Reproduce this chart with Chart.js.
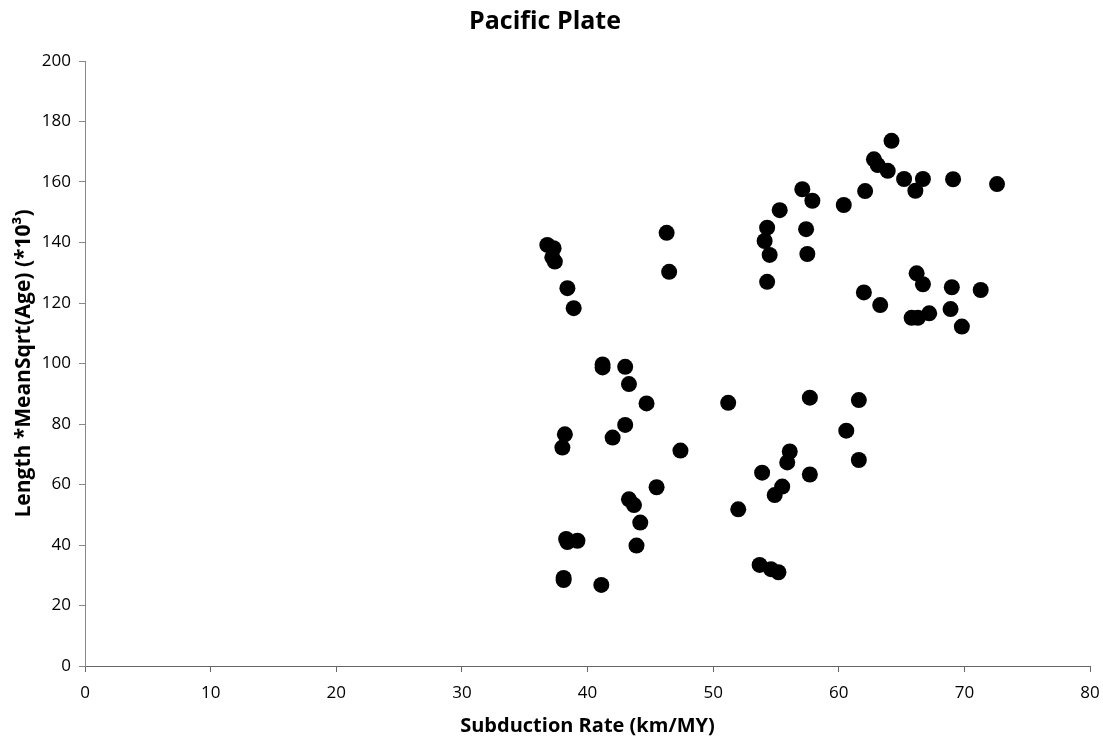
<!DOCTYPE html>
<html>
<head>
<meta charset="utf-8">
<script src="https://cdn.jsdelivr.net/npm/chart.js@4"></script>
<style>
  html, body { margin: 0; padding: 0; background: #fff; }
  #wrap { width: 1103px; height: 742px; }
</style>
</head>
<body>
<div id="wrap"><canvas id="myChart" width="1103" height="742"></canvas></div>
<script>
// subduction rate (km/MY)
const rate = [
  36.8, 37.3, 37.2, 37.4, 38.4, 38.9, 46.3, 46.5,
  55.3, 54.3, 54.1, 54.5, 54.3, 57.1, 57.9, 57.4, 57.5,
  64.2, 62.8, 63.1, 63.9, 65.2, 66.7, 66.1, 69.1, 72.6, 60.4, 62.1,
  66.2, 66.7, 69.0, 71.3, 62.0, 63.3, 65.8, 66.3, 67.2, 68.9, 69.8,
  41.2, 41.2, 43.0, 43.3, 44.7, 51.2, 57.7, 61.6, 60.6,
  38.2, 38.0, 43.0, 42.0, 47.4, 56.1, 55.9, 53.9, 57.7, 61.6,
  55.5, 54.9, 45.5, 43.3, 43.7, 44.2, 43.9,
  38.3, 38.4, 39.2, 52.0, 38.1, 38.1, 41.1, 53.7, 54.6, 55.2
];
// length * mean sqrt(age) (*10^3)
const lenAge = [
  139.2, 138.1, 135.1, 133.7, 124.9, 118.3, 143.2, 130.3,
  150.7, 144.9, 140.5, 135.9, 127.0, 157.6, 153.8, 144.4, 136.2,
  173.6, 167.5, 165.6, 163.7, 161.0, 161.0, 157.1, 160.9, 159.3, 152.4, 157.0,
  129.8, 126.2, 125.2, 124.3, 123.5, 119.3, 115.1, 115.1, 116.6, 118.0, 112.2,
  99.7, 98.7, 98.9, 93.2, 86.8, 87.0, 88.7, 87.9, 77.8,
  76.6, 72.2, 79.7, 75.5, 71.2, 70.9, 67.3, 63.9, 63.3, 68.1,
  59.3, 56.5, 59.1, 55.1, 53.2, 47.4, 39.8,
  42.0, 41.0, 41.4, 51.8, 29.1, 28.4, 26.8, 33.4, 32.0, 31.0
];
const xTicks = [0, 10, 20, 30, 40, 50, 60, 70, 80];
const yTicks = [0, 20, 40, 60, 80, 100, 120, 140, 160, 180, 200];

var points = [];
for (var i = 0; i < rate.length; i++) {
  points.push({ x: rate[i], y: lenAge[i] });
}

var font = "'Open Sans', Lato, sans-serif";

var config = {
  type: 'scatter',
  data: {
    datasets: [{
      label: 'Pacific Plate',
      data: points,
      backgroundColor: '#000000',
      borderColor: '#000000',
      borderWidth: 0,
      pointRadius: 8,
      pointHoverRadius: 8
    }]
  },
  options: {
    responsive: false,
    animation: false,
    events: [],
    layout: { padding: { left: 0, right: 13, top: 0, bottom: 0 } },
    plugins: {
      legend: { display: false },
      tooltip: { enabled: false },
      title: {
        display: true,
        text: 'Pacific Plate',
        color: '#000',
        font: { family: font, size: 25, weight: 'bold' },
        padding: { top: 7, bottom: 24 }
      }
    },
    scales: {
      x: {
        type: 'linear',
        min: 0,
        max: 80,
        afterBuildTicks: function (scale) {
          scale.ticks = xTicks.map(function (v) { return { value: v }; });
        },
        afterFit: function (scale) {
          scale.height = 76;
          scale.paddingLeft = 0;
          scale.paddingRight = 0;
        },
        grid: { display: true, drawOnChartArea: false, drawTicks: true, tickLength: 6, color: '#666' },
        border: { display: true, color: '#666', width: 1 },
        ticks: { color: '#000', font: { family: font, size: 17 }, padding: 11, maxRotation: 0 },
        title: {
          display: true,
          text: 'Subduction Rate (km/MY)',
          color: '#000',
          font: { family: font, size: 20, weight: 'bold' },
          padding: { top: 4, bottom: 4 }
        }
      },
      y: {
        type: 'linear',
        min: 0,
        max: 200,
        afterBuildTicks: function (scale) {
          scale.ticks = yTicks.map(function (v) { return { value: v }; });
        },
        afterFit: function (scale) { scale.width = 85; },
        grid: { display: true, drawOnChartArea: false, drawTicks: true, tickLength: 6, color: '#888' },
        border: { display: true, color: '#888', width: 1 },
        ticks: { color: '#000', font: { family: font, size: 17 }, padding: 8 },
        title: {
          display: true,
          text: 'Length *MeanSqrt(Age) (*10\u00B3)',
          color: '#000',
          font: { family: font, size: 21, weight: 'bold' },
          padding: { top: 11, bottom: 0 }
        }
      }
    }
  }
};

var myChart = new Chart(document.getElementById('myChart'), config);
</script>
</body>
</html>
